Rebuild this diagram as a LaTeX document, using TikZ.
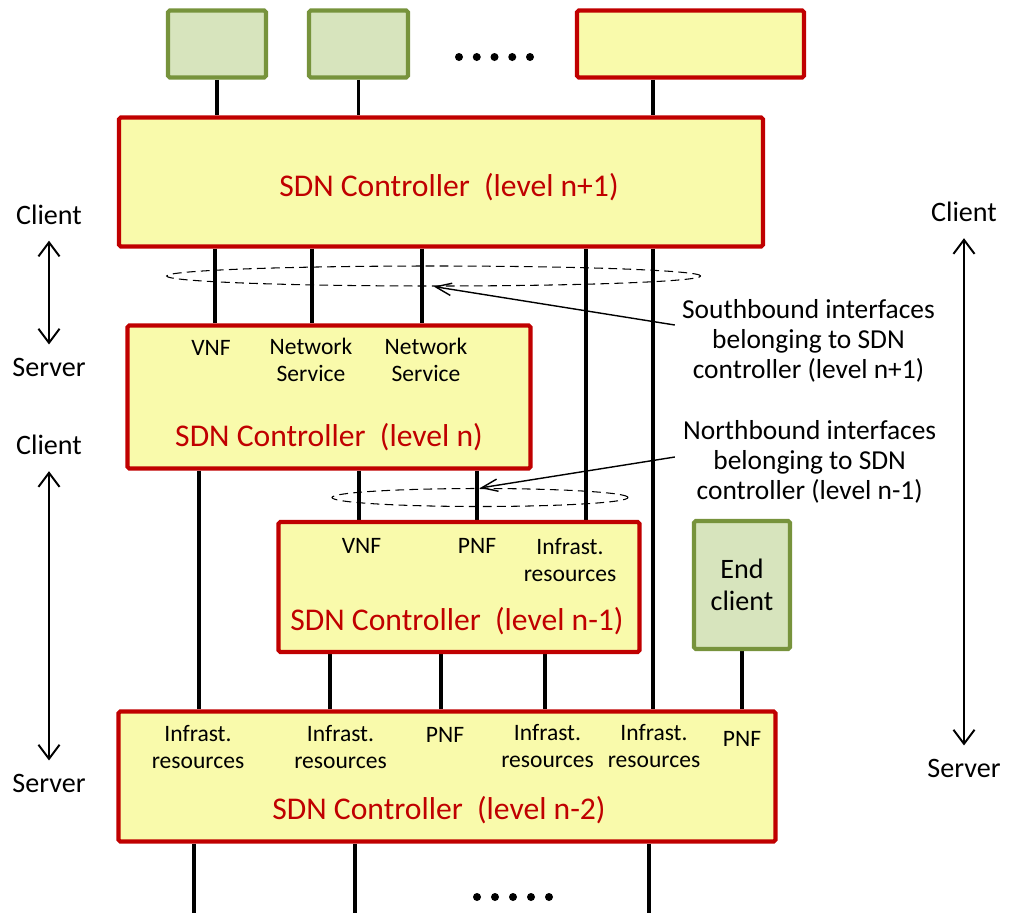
\documentclass[tikz,border=0pt]{standalone}
\usepackage{fontspec}
\setmainfont{Carlito}
\usetikzlibrary{positioning,arrows.meta,shapes.geometric,backgrounds}
\definecolor{ctrlfill}{RGB}{249,250,171}
\definecolor{ctrlred}{RGB}{192,0,0}
\definecolor{appfill}{RGB}{215,228,189}
\definecolor{appgreen}{RGB}{119,147,60}
\newdimen\unitpx \unitpx=0.02cm

\begin{document}
\begin{tikzpicture}[x=0.02cm, y=-0.02cm,
    ctrl/.style={rectangle, draw=ctrlred, line width=2.3pt, fill=ctrlfill, rounded corners=1pt, inner sep=0pt},
    app/.style={rectangle, draw=appgreen, line width=2.3pt, fill=appfill, rounded corners=1pt, inner sep=0pt, align=center, font=\fontsize{16}{18}\selectfont},
    title/.style={text=ctrlred, inner sep=0pt, font=\fontsize{18}{21}\selectfont},
    lbl/.style={align=center, inner sep=0pt, font=\fontsize{13.4}{15.3}\selectfont},
    note/.style={align=center, inner sep=0pt, font=\fontsize{15.6}{17.2}\selectfont},
    role/.style={inner sep=0pt, font=\fontsize{16}{18}\selectfont},
    link/.style={draw, line width=1.9pt},
    cs/.style={draw, line width=1.1pt, shorten <=16\unitpx, shorten >=13\unitpx,
      {Straight Barb[length=8pt,width=12pt]}-{Straight Barb[length=8pt,width=12pt]}},
    pointer/.style={draw, line width=0.8pt, -{Straight Barb[length=9pt,width=7pt]}},
    iface/.style={ellipse, draw, dash pattern=on 5pt off 3pt, line width=0.6pt, inner sep=0pt}
  ]
\useasboundingbox (0,0) rectangle (1011,913);
\coordinate (floor) at (0,913);

% applications on top
\node[app, minimum width=98\unitpx, minimum height=67\unitpx] (svc1) at (217,44) {};
\node[app, minimum width=99\unitpx, minimum height=67\unitpx] (svc2) at (358.5,44) {};
\node[ctrl, minimum width=227\unitpx, minimum height=67\unitpx] (svc3) at (690.5,44) {};
\foreach \i in {0,...,4}
  \fill (459+17.75*\i,57) circle [radius=4\unitpx];

% controllers
\node[ctrl, minimum width=644\unitpx, minimum height=129\unitpx] (c1) at (441,182) {};
\node[ctrl, minimum width=403\unitpx, minimum height=143\unitpx] (c2) at (329,397) {};
\node[ctrl, minimum width=361\unitpx, minimum height=130\unitpx] (c3) at (459,587) {};
\node[ctrl, minimum width=657\unitpx, minimum height=130\unitpx] (c4) at (447,776.5) {};
\node[app, minimum width=96\unitpx, minimum height=128\unitpx] (ec) at (742,585) {End\\client};

\node[title] (t1) at (449,187) {SDN Controller\ \ (level n+1)};
\node[title] (t2) at (329,437.5) {SDN Controller\ \ (level n)};
\node[title] (t3) at (457,621.5) {SDN Controller\ \ (level n-1)};
\node[title] (t4) at (439,810) {SDN Controller\ \ (level n-2)};

% interface labels
\node[lbl] (vnf2) at (211,347.5) {VNF};
\node[lbl] (ns2a) at (311,360) {Network\\Service};
\node[lbl] (ns2b) at (426,360) {Network\\Service};
\node[lbl] (vnf3) at (361.5,545.5) {VNF};
\node[lbl] (pnf3) at (477,545.5) {PNF};
\node[lbl] (inf3) at (570,560) {Infrast.\\resources};
\node[lbl] (inf4a) at (198,747) {Infrast.\\resources};
\node[lbl] (inf4b) at (340.5,747) {Infrast.\\resources};
\node[lbl] (pnf4a) at (445,735) {PNF};
\node[lbl] (inf4c) at (547.5,746) {Infrast.\\resources};
\node[lbl] (inf4d) at (654,746) {Infrast.\\resources};
\node[lbl] (pnf4b) at (742,739) {PNF};

% interface groups
\node[iface, minimum width=534\unitpx, minimum height=20\unitpx] (sb) at (433.7,276) {};
\node[iface, minimum width=296\unitpx, minimum height=18\unitpx] (nb) at (480,497.5) {};
\node[note] (sbtxt) at (808.5,341) {Southbound interfaces\\belonging to SDN\\controller (level n+1)};
\node[note] (nbtxt) at (809.7,462) {Northbound interfaces\\belonging to SDN\\controller (level n-1)};
\draw[pointer] ([xshift=-7\unitpx,yshift=16\unitpx]sbtxt.west) -- (sb.south);
\draw[pointer] ([xshift=-8\unitpx,yshift=5\unitpx]nbtxt.west) -- (nb.north);

% client / server roles
\node[role] (cl1) at (49,214.5) {Client};
\node[role] (sv1) at (49,367) {Server};
\node[role] (cl2) at (49,445) {Client};
\node[role] (sv2) at (49,783) {Server};
\node[role] (cl3) at (964,212) {Client};
\node[role] (sv3) at (964,768) {Server};
\draw[cs] (cl1) -- (sv1);
\draw[cs] (cl2) -- (sv2);
\draw[cs] (cl3) -- (sv3);

\foreach \i in {0,...,4}
  \fill (477+18*\i,897) circle [radius=4\unitpx];

\begin{scope}[on background layer]
  \draw[link] (svc1.south) -- (c1.north -| svc1.south);
  \draw[link] (svc2.south) -- (c1.north -| svc2.south);
  \draw[link] (svc3.south -| 653,0) -- (c1.north -| 653,0);
  \foreach \x in {215,312,422}
    \draw[link] (c1.south -| \x,0) -- (c2.north -| \x,0);
  \draw[link] (c1.south -| 586,0) -- (c3.north -| 586,0);
  \draw[link] (c1.south -| 653,0) -- (c4.north -| 653,0);
  \draw[link] (c2.south -| 199,0) -- (c4.north -| 199,0);
  \foreach \x in {359,477}
    \draw[link] (c2.south -| \x,0) -- (c3.north -| \x,0);
  \foreach \x in {330,441,545}
    \draw[link] (c3.south -| \x,0) -- (c4.north -| \x,0);
  \draw[link] (ec.south) -- (c4.north -| ec.south);
  \foreach \x in {194,355,649}
    \draw[link] (c4.south -| \x,0) -- (floor -| \x,0);
\end{scope}
\end{tikzpicture}
\end{document}
